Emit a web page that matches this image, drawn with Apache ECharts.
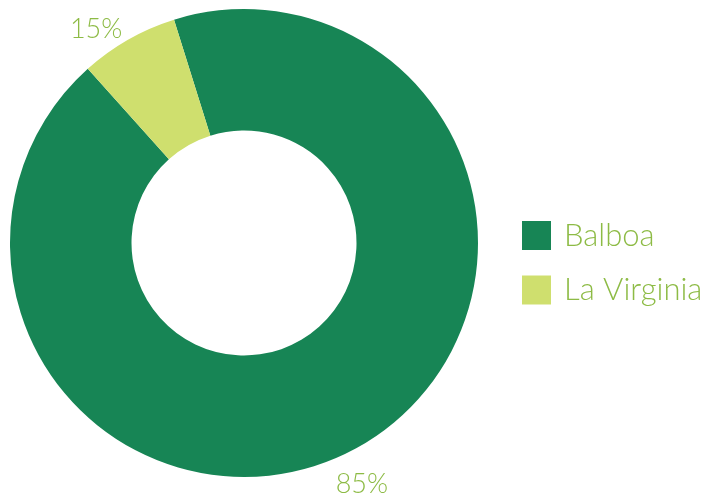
<!DOCTYPE html>
<html>
<head>
<meta charset="utf-8">
<script src="https://cdn.jsdelivr.net/npm/echarts@6/dist/echarts.min.js"></script>
<style>html,body{margin:0;padding:0;background:#fff;}#c{width:710px;height:499px;}</style>
</head>
<body>
<div id="c"></div>
<script>
var categories = ['Balboa', 'La Virginia'];
var values = [93.2, 6.8];
var shareLabels = ['85%', '15%'];
var colors = ['#178555', '#cfdf6e'];

var labelOffsets = [[-34, 29], [4, -2]];
var textColor = '#8dbb45';
var font = 'Lato';

var chart = echarts.init(document.getElementById('c'));
chart.setOption({
  animation: false,
  color: colors,
  legend: {
    orient: 'vertical',
    left: 522, top: 220,
    padding: 0,
    icon: 'rect',
    itemWidth: 29, itemHeight: 29, itemGap: 23.5,
    textStyle: { color: textColor, fontFamily: font, fontWeight: 300, fontSize: 31, lineHeight: 29, padding: [0, 0, 0, 8] },
    data: categories
  },
  series: [{
    type: 'pie',
    center: [244, 243],
    radius: [112.5, 234],
    startAngle: 107.4,
    clockwise: true,
    avoidLabelOverlap: false,
    silent: true,
    labelLine: { show: false, length: 10, length2: 0 },
    label: {
      show: true, position: 'outside',
      color: textColor, fontFamily: font, fontWeight: 300, fontSize: 27,
      formatter: function (p) { return shareLabels[p.dataIndex]; }
    },
    data: categories.map(function (c, i) {
      return { name: c, value: values[i], label: { offset: labelOffsets[i] } };
    })
  }]
});
</script>
</body>
</html>
